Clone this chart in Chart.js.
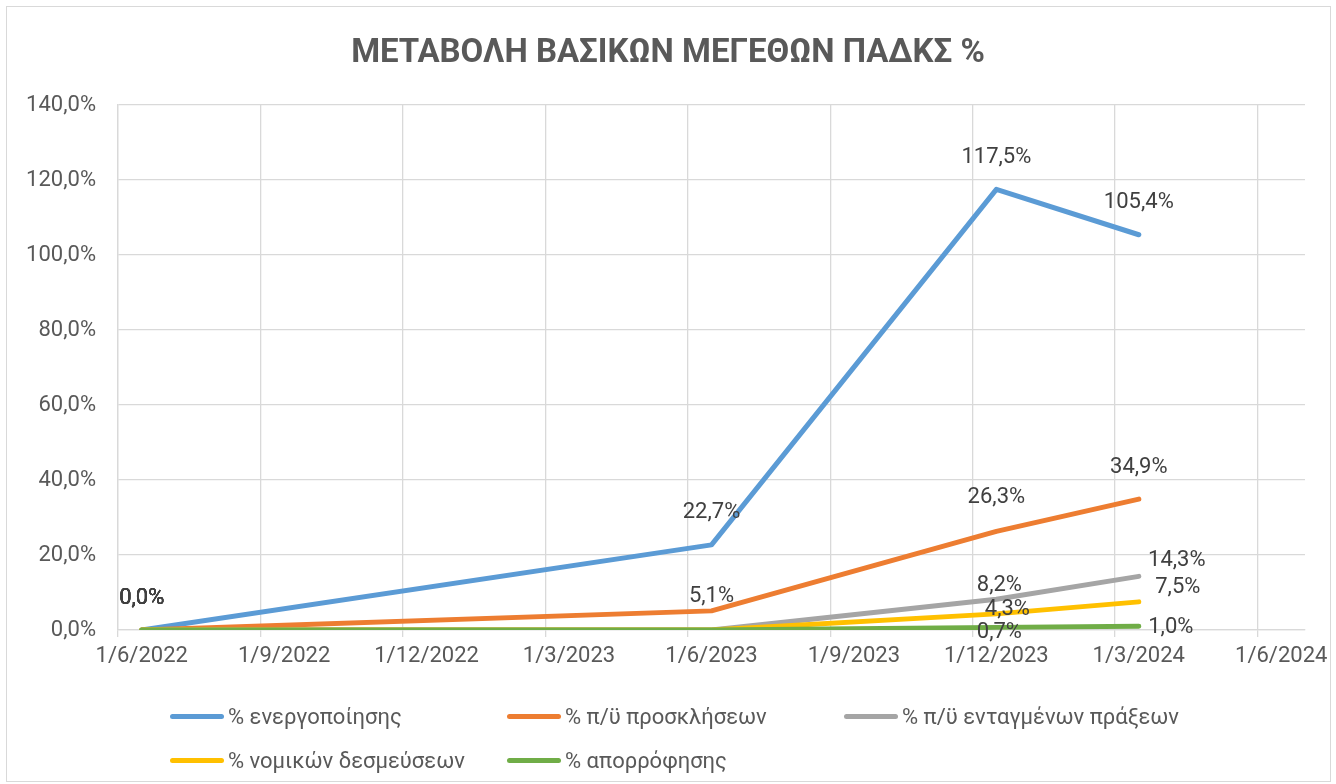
<!DOCTYPE html>
<html lang="el">
<head>
<meta charset="utf-8">
<title>ΜΕΤΑΒΟΛΗ ΒΑΣΙΚΩΝ ΜΕΓΕΘΩΝ ΠΑΔΚΣ %</title>
<script src="https://cdn.jsdelivr.net/npm/chart.js@4"></script>
<style>
  html, body { margin: 0; padding: 0; background: #fff; }
  body { width: 1336px; height: 784px; position: relative; overflow: hidden; font-family: Roboto, "Noto Sans", sans-serif; }
  .frame { position: absolute; left: 6px; top: 6px; width: 1325px; height: 776px; border: 1px solid #d9d9d9; box-sizing: border-box; }
  canvas { position: absolute; left: 0; top: 0; }
  h1 { position: absolute; left: 0; top: 31px; width: 1336px; margin: 0; text-align: center; font-size: 33px; font-weight: bold; color: #595959; line-height: 40px; }
  .legend { position: absolute; left: 170px; top: 698px; display: grid; grid-template-columns: 337px 337px 337px; row-gap: 8px; }
  .legend div { display: flex; align-items: center; height: 36px; font-size: 22px; color: #595959; }
  .legend span { display: inline-block; width: 54px; height: 5px; border-radius: 3px; margin-right: 4px; }
</style>
</head>
<body>
<div class="frame"></div>
<canvas id="chart" width="1336" height="784"></canvas>
<h1>ΜΕΤΑΒΟΛΗ ΒΑΣΙΚΩΝ ΜΕΓΕΘΩΝ ΠΑΔΚΣ %</h1>
<div class="legend" id="legend"></div>
<script>
// Ημερομηνίες μετρήσεων
const dates = ['1/6/2022', '1/6/2023', '1/12/2023', '1/3/2024'];

// Σειρές (%)
const energopoiisi = [0, 22.7, 117.5, 105.4];
const proskliseis = [0, 5.1, 26.3, 34.9];
const entagmenes = [0, 0, 8.2, 14.3];
const desmeuseis = [0, 0, 4.3, 7.5];
const aporrofisi = [0, 0, 0.7, 1.0];

const seriesNames = ['% ενεργοποίησης', '% π/ϋ προσκλήσεων', '% π/ϋ ενταγμένων πράξεων', '% νομικών δεσμεύσεων', '% απορρόφησης'];
const seriesValues = [energopoiisi, proskliseis, entagmenes, desmeuseis, aporrofisi];
const colors = ['#5b9bd5', '#ed7d31', '#a5a5a5', '#ffc000', '#70ad47'];

// θέση ετικετών γύρω από το σημείο [dx, dy]
const labelShift = [
    [[0, -32], [0, -32], [0, -32], [0, -32]],
    [[0, -32], [0, -14], [0, -34], [0, -32]],
    [[0, -32], [0, 0], [3, -14], [38, -16]],
    [[0, -32], [0, 0], [11, -4], [39, -14]],
    [[0, -32], [0, 0], [3, 5], [32, 1]]
];

// y-άξονας: 0 - 140, βήμα 20
const yMin = 0, yMax = 140, yStep = 20;

// μήνες από 1/6/2022 (κάθε μήνας είναι ένα "κελί", το σημείο στο κέντρο)
const toMonth = s => {
    const [d, m, y] = s.split('/').map(Number);
    return (y - 2022) * 12 + (m - 6) + 0.5;
};
const monthToLabel = v => {
    const total = 5 + v; // 0 = Ιούνιος 2022
    return '1/' + (total % 12 + 1) + '/' + (2022 + Math.floor(total / 12));
};
const fmt = v => v.toFixed(1).replace('.', ',') + '%';

const xs = dates.map(toMonth);

const dataLabels = {
    id: 'dataLabels',
    afterDatasetsDraw(chart) {
        const ctx = chart.ctx;
        ctx.save();
        ctx.font = '22px Roboto, "Noto Sans", sans-serif';
        ctx.fillStyle = '#404040';
        ctx.textAlign = 'center';
        ctx.textBaseline = 'middle';
        chart.data.datasets.forEach((ds, di) => {
            const meta = chart.getDatasetMeta(di);
            meta.data.forEach((pt, i) => {
                const v = ds.data[i].y;
                if (i !== 0 && v === 0) return;
                const [dx, dy] = labelShift[di][i];
                ctx.fillText(fmt(v), pt.x + dx, pt.y + dy);
            });
        });
        ctx.restore();
    }
};

const gridColor = '#d9d9d9';

new Chart(document.getElementById('chart'), {
    type: 'line',
    data: {
        datasets: seriesValues.map((vals, i) => ({
            label: seriesNames[i],
            data: vals.map((v, j) => ({ x: xs[j], y: v })),
            borderColor: colors[i],
            backgroundColor: colors[i],
            borderWidth: 5,
            borderCapStyle: 'round',
            borderJoinStyle: 'round',
            pointRadius: 0,
            tension: 0,
            order: seriesValues.length - i
        }))
    },
    options: {
        responsive: false,
        animation: false,
        layout: { padding: { top: 105, left: 0, right: 31, bottom: 104 } },
        plugins: {
            legend: { display: false },
            title: { display: false },
            tooltip: { enabled: false }
        },
        scales: {
            x: {
                type: 'linear',
                min: 0,
                max: 25,
                afterBuildTicks: scale => {
                    const t = [];
                    for (let v = 0; v <= 24; v += 3) t.push({ value: v });
                    scale.ticks = t;
                },
                afterFit: scale => {
                    scale.height = 50;
                    scale.paddingLeft = 0;
                    scale.paddingRight = 0;
                },
                grid: { color: gridColor, lineWidth: 1.3, tickLength: 7, drawTicks: true },
                border: { color: gridColor, width: 1.3 },
                ticks: {
                    callback: v => monthToLabel(v),
                    labelOffset: 23.7,
                    padding: 6,
                    maxRotation: 0,
                    autoSkip: false,
                    color: '#595959',
                    font: { family: 'Roboto, "Noto Sans", sans-serif', size: 22 }
                }
            },
            y: {
                min: yMin,
                max: yMax,
                afterFit: scale => { scale.width = 118; },
                grid: { color: gridColor, lineWidth: 1.3, drawTicks: false },
                border: { color: gridColor, width: 1.3 },
                ticks: {
                    stepSize: yStep,
                    padding: 22,
                    callback: v => fmt(v),
                    color: '#595959',
                    font: { family: 'Roboto, "Noto Sans", sans-serif', size: 22 }
                }
            }
        }
    },
    plugins: [dataLabels]
});

// Υπόμνημα
const legend = document.getElementById('legend');
seriesNames.forEach((name, i) => {
    const item = document.createElement('div');
    item.innerHTML = `<span style="background:${colors[i]}"></span>${name}`;
    legend.appendChild(item);
});
</script>
</body>
</html>
